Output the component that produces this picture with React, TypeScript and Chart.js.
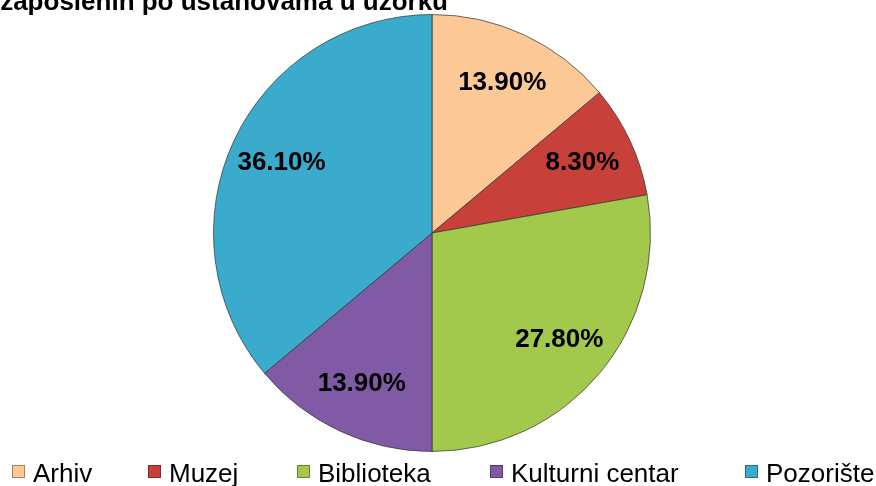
import React, { useEffect, useRef } from "react";
import { Chart, registerables } from "chart.js";

Chart.register(...registerables);

const categories = ["Arhiv", "Muzej", "Biblioteka", "Kulturni centar", "Pozorište"];
const shares = [13.9, 8.3, 27.8, 13.9, 36.1];
const sliceColors = ["#FBC896", "#C8403A", "#A2C84C", "#805AA5", "#3AAACD"];
const titleText = "zaposlenih po ustanovama u uzorku";
const legendX = [12, 148, 297, 490, 745];

const FONT = '"Liberation Sans", Arial, sans-serif';

const overlayPlugin = {
  id: "overlay",
  afterDatasetsDraw(chart: any) {
    const ctx = chart.ctx;
    const meta = chart.getDatasetMeta(0);
    ctx.save();
    ctx.fillStyle = "#000";
    ctx.font = `bold 26px ${FONT}`;
    ctx.textAlign = "center";
    ctx.textBaseline = "middle";
    meta.data.forEach((arc: any, i: number) => {
      const p = arc.getProps(["x", "y", "startAngle", "endAngle", "outerRadius"], true);
      const mid = (p.startAngle + p.endAngle) / 2;
      const r = p.outerRadius * 0.76;
      const v = chart.data.datasets[0].data[i] as number;
      ctx.fillText(v.toFixed(2) + "%", p.x + Math.cos(mid) * r, p.y + Math.sin(mid) * r);
    });
    ctx.restore();
  },
  afterDraw(chart: any) {
    const ctx = chart.ctx;
    ctx.save();
    // title (cropped at the top-left in the reference)
    ctx.fillStyle = "#000";
    ctx.font = `bold 26px ${FONT}`;
    ctx.textAlign = "right";
    ctx.textBaseline = "alphabetic";
    ctx.fillText(titleText, 448, 10);
    // legend
    ctx.font = `26px ${FONT}`;
    ctx.textAlign = "left";
    chart.data.labels.forEach((lab: string, i: number) => {
      const x = legendX[i];
      const col = (chart.data.datasets[0].backgroundColor as string[])[i];
      ctx.fillStyle = col;
      ctx.fillRect(x, 465, 13, 13);
      ctx.strokeStyle = "rgba(0,0,0,0.35)";
      ctx.lineWidth = 1;
      ctx.strokeRect(x + 0.5, 465.5, 12, 12);
      ctx.fillStyle = "#000";
      ctx.fillText(lab, x + 21, 482);
    });
    ctx.restore();
  },
};

export default function App() {
  const ref = useRef<HTMLCanvasElement | null>(null);
  useEffect(() => {
    document.body.style.margin = "0";
    const chart = new Chart(ref.current as HTMLCanvasElement, {
      type: "pie",
      data: {
        labels: categories,
        datasets: [
          {
            data: shares,
            backgroundColor: sliceColors,
            borderColor: "rgba(50,50,50,0.7)",
            borderWidth: 1,
          },
        ],
      },
      options: {
        animation: false,
        responsive: false,
        layout: { padding: { top: 14, bottom: 34, left: 0, right: 12 } },
        plugins: {
          legend: { display: false },
          tooltip: { enabled: false },
          title: { display: false },
        },
      },
      plugins: [overlayPlugin],
    });
    return () => chart.destroy();
  }, []);
  return (
    <div style={{ width: 876, height: 486, background: "#fff" }}>
      <canvas ref={ref} width={876} height={486} />
    </div>
  );
}
